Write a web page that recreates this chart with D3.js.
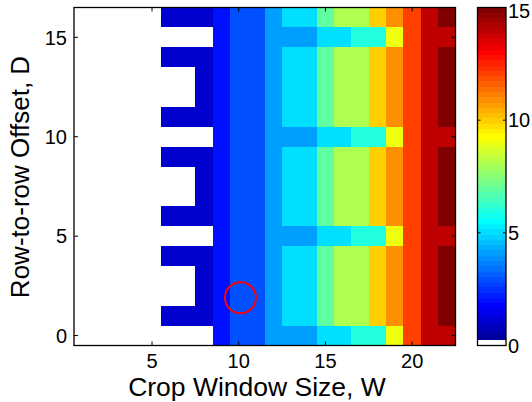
<!DOCTYPE html>
<html>
<head>
<meta charset="utf-8">
<script src="https://cdn.jsdelivr.net/npm/d3@7"></script>
<style>
  body { margin: 0; background: #fff; }
  text { font-family: "Liberation Sans", Arial, sans-serif; fill: #000; }
</style>
</head>
<body>
<div id="chart"></div>
<script>
// crop window sizes (columns) and row offsets (rows)
var wValues = [1,2,3,4,5,6,7,8,9,10,11,12,13,14,15,16,17,18,19,20,21,22];
var dValues = [0,1,2,3,4,5,6,7,8,9,10,11,12,13,14,15,16];

// one row of values per D, from D = 0 up to D = 16
var counts = [
  [0,0,0,0,0,0,0,0,2,3,3,4,4,4,5,5,6,6,9,12,14,14],
  [0,0,0,0,0,1,1,1,2,3,3,4,5,5,7,8,8,10,11,12,14,15],
  [0,0,0,0,0,0,0,1,2,3,3,4,5,5,7,8,8,10,11,12,14,15],
  [0,0,0,0,0,0,0,1,2,3,3,4,5,5,7,8,8,10,11,12,14,15],
  [0,0,0,0,0,1,1,1,2,3,3,4,5,5,7,8,8,10,11,12,14,15],
  [0,0,0,0,0,0,0,0,2,3,3,4,4,4,5,5,6,6,9,12,14,14],
  [0,0,0,0,0,1,1,1,2,3,3,4,5,5,7,8,8,10,11,12,14,15],
  [0,0,0,0,0,0,0,1,2,3,3,4,5,5,7,8,8,10,11,12,14,15],
  [0,0,0,0,0,0,0,1,2,3,3,4,5,5,7,8,8,10,11,12,14,15],
  [0,0,0,0,0,1,1,1,2,3,3,4,5,5,7,8,8,10,11,12,14,15],
  [0,0,0,0,0,0,0,0,2,3,3,4,4,4,5,5,6,6,9,12,14,14],
  [0,0,0,0,0,1,1,1,2,3,3,4,5,5,7,8,8,10,11,12,14,15],
  [0,0,0,0,0,0,0,1,2,3,3,4,5,5,7,8,8,10,11,12,14,15],
  [0,0,0,0,0,0,0,1,2,3,3,4,5,5,7,8,8,10,11,12,14,15],
  [0,0,0,0,0,1,1,1,2,3,3,4,5,5,7,8,8,10,11,12,14,15],
  [0,0,0,0,0,0,0,0,2,3,3,4,4,4,5,5,6,6,9,12,14,14],
  [0,0,0,0,0,1,1,1,2,3,3,4,5,5,7,8,8,10,11,12,14,15]
];

var xTicks = [5, 10, 15, 20];
var yTicks = [0, 5, 10, 15];
var cbTicks = [0, 5, 10, 15];
var colorRange = [0, 15];

// highlighted cell
var markW = [10.1];
var markD = [1.9];

var width = 532, height = 402;
var svg = d3.select("#chart").append("svg")
    .attr("width", width)
    .attr("height", height);

var x = d3.scaleLinear().domain([0.5, 22.5]).range([74, 455.5]);
var y = d3.scaleLinear().domain([-0.5, 16.5]).range([345.5, 7.5]);

// matlab style jet(64), first entry white
function jetMap(m) {
  var n = Math.ceil(m / 4);
  var u = [];
  for (var i = 1; i <= n; i++) u.push(i / n);
  for (var i = 1; i < n; i++) u.push(1);
  for (var i = n; i >= 1; i--) u.push(i / n);
  var g0 = Math.ceil(n / 2) - (m % 4 == 1 ? 1 : 0);
  var cmap = [];
  for (var i = 0; i < m; i++) cmap.push([0, 0, 0]);
  u.forEach(function(val, k) {
    var g = g0 + k + 1, r = g + n, b = g - n;
    if (r >= 1 && r <= m) cmap[r - 1][0] = val;
    if (g >= 1 && g <= m) cmap[g - 1][1] = val;
    if (b >= 1 && b <= m) cmap[b - 1][2] = val;
  });
  return cmap.map(function(c) {
    return d3.rgb(c[0] * 255, c[1] * 255, c[2] * 255).toString();
  });
}
var cmap = jetMap(64);
cmap[0] = "#ffffff";

function colorOf(v) {
  var idx = Math.floor((v - colorRange[0]) / (colorRange[1] - colorRange[0]) * cmap.length);
  idx = Math.max(0, Math.min(cmap.length - 1, idx));
  return cmap[idx];
}

// cells
var cells = [];
dValues.forEach(function(d, i) {
  wValues.forEach(function(w, j) {
    cells.push({w: w, d: d, v: counts[i][j]});
  });
});

svg.append("g")
  .attr("shape-rendering", "crispEdges")
  .selectAll("rect")
  .data(cells)
  .enter()
  .append("rect")
    .attr("x", function(c) { return Math.round(x(c.w - 0.5)); })
    .attr("y", function(c) { return Math.round(y(c.d + 0.5)); })
    .attr("width", function(c) { return Math.round(x(c.w + 0.5)) - Math.round(x(c.w - 0.5)); })
    .attr("height", function(c) { return Math.round(y(c.d - 0.5)) - Math.round(y(c.d + 0.5)); })
    .attr("fill", function(c) { return colorOf(c.v); });

// red circle
svg.append("circle")
  .attr("cx", x(markW[0]))
  .attr("cy", y(markD[0]))
  .attr("r", 15.5)
  .attr("fill", "none")
  .attr("stroke", "#ff0000")
  .attr("stroke-width", 2);

// axes box + inward ticks
var x0 = x.range()[0], x1 = x.range()[1], y0 = y.range()[0], y1 = y.range()[1];
svg.append("rect")
  .attr("x", x0).attr("y", y1)
  .attr("width", x1 - x0).attr("height", y0 - y1)
  .attr("fill", "none").attr("stroke", "#000").attr("stroke-width", 1.3);

var tickLen = 4;
xTicks.forEach(function(t) {
  svg.append("line").attr("x1", x(t)).attr("x2", x(t)).attr("y1", y0).attr("y2", y0 - tickLen)
    .attr("stroke", "#000").attr("stroke-width", 1);
  svg.append("line").attr("x1", x(t)).attr("x2", x(t)).attr("y1", y1).attr("y2", y1 + tickLen)
    .attr("stroke", "#000").attr("stroke-width", 1);
  svg.append("text").attr("x", x(t)).attr("y", 368)
    .attr("text-anchor", "middle").style("font-size", "20px").text(t);
});
yTicks.forEach(function(t) {
  svg.append("line").attr("x1", x0).attr("x2", x0 + tickLen).attr("y1", y(t)).attr("y2", y(t))
    .attr("stroke", "#000").attr("stroke-width", 1);
  svg.append("line").attr("x1", x1).attr("x2", x1 - tickLen).attr("y1", y(t)).attr("y2", y(t))
    .attr("stroke", "#000").attr("stroke-width", 1);
  svg.append("text").attr("x", 67).attr("y", y(t)).attr("dy", "0.36em")
    .attr("text-anchor", "end").style("font-size", "20px").text(t);
});

// axis labels
svg.append("text")
  .attr("x", 257).attr("y", 396)
  .attr("text-anchor", "middle")
  .style("font-size", "26.5px")
  .text("Crop Window Size, W");

svg.append("text")
  .attr("transform", "translate(29,177) rotate(-90)")
  .attr("text-anchor", "middle")
  .style("font-size", "26px")
  .text("Row-to-row Offset, D");

// colorbar
var cb = d3.scaleLinear().domain(colorRange).range([345.5, 7.5]);
var cbLeft = 477.5, cbRight = 506;
var step = (colorRange[1] - colorRange[0]) / cmap.length;
svg.append("g")
  .attr("shape-rendering", "crispEdges")
  .selectAll("rect")
  .data(cmap)
  .enter()
  .append("rect")
    .attr("x", cbLeft)
    .attr("width", cbRight - cbLeft)
    .attr("y", function(c, i) { return Math.round(cb(colorRange[0] + (i + 1) * step)); })
    .attr("height", function(c, i) { return Math.round(cb(colorRange[0] + i * step)) - Math.round(cb(colorRange[0] + (i + 1) * step)); })
    .attr("fill", function(c) { return c; });

svg.append("rect")
  .attr("x", cbLeft).attr("y", cb.range()[1])
  .attr("width", cbRight - cbLeft).attr("height", cb.range()[0] - cb.range()[1])
  .attr("fill", "none").attr("stroke", "#000").attr("stroke-width", 1.3);

cbTicks.forEach(function(t) {
  svg.append("line").attr("x1", cbLeft).attr("x2", cbLeft + 3).attr("y1", cb(t)).attr("y2", cb(t))
    .attr("stroke", "#000").attr("stroke-width", 1);
  svg.append("line").attr("x1", cbRight).attr("x2", cbRight - 3).attr("y1", cb(t)).attr("y2", cb(t))
    .attr("stroke", "#000").attr("stroke-width", 1);
  svg.append("text").attr("x", 508).attr("y", Math.max(cb(t), 11)).attr("dy", "0.36em")
    .style("font-size", "20px").text(t);
});
</script>
</body>
</html>
